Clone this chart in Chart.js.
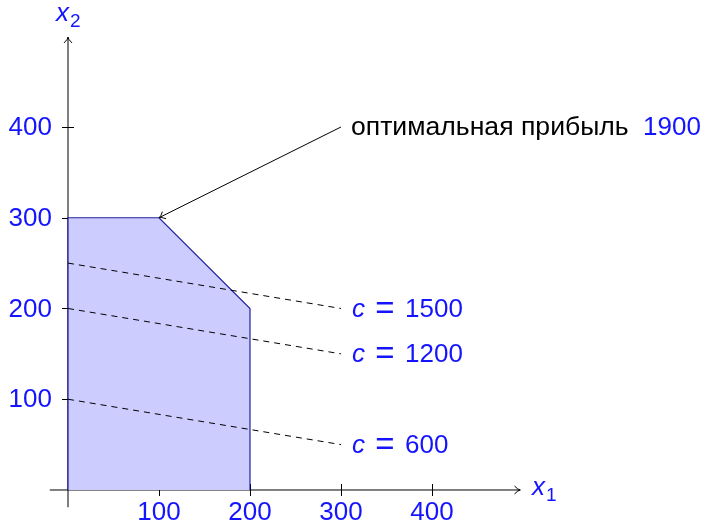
<!DOCTYPE html>
<html>
<head>
<meta charset="utf-8">
<script src="https://cdn.jsdelivr.net/npm/chart.js@4.4.0/dist/chart.umd.min.js"></script>
<style>
  html, body { margin: 0; padding: 0; background: #fff; }
  #wrap { width: 702px; height: 527px; }
</style>
</head>
<body>
<div id="wrap"><canvas id="lp"></canvas></div>
<script>
// feasible region corners (x1, x2)
const regionX = [0, 0, 100, 200, 200];
const regionY = [0, 300, 300, 200, 0];

// iso-profit lines c = x1 + 6*x2, drawn from x1 = 0 to x1 = 300
const profitLevels = [1500, 1200, 600];
const profitLabels = ["1500", "1200", "600"];
const lineX = [0, 300];

// optimum and annotation anchor
const optimum = { x: 100, y: 300 };
const noteAt = { x: 300, y: 400 };
const noteText = "оптимальная прибыль";
const noteValue = "1900";

// axes
const xTicks = [100, 200, 300, 400];
const yTicks = [100, 200, 300, 400];
const xAxisRange = [-20, 497];
const yAxisRange = [-19, 499];

const BLUE = "#1414ff";
const FONT = '"Liberation Sans", Arial, sans-serif';

function pts(xs, ys) {
  return xs.map((x, i) => ({ x: x, y: ys[i] }));
}

function levelLine(c) {
  return lineX.map(x => ({ x: x, y: (c - x) / 6 }));
}

// chart.js paints the first dataset last, so: dashed lines, arrow, region, axes
let datasets = [];

profitLevels.forEach(c => {
  datasets.push({
    data: levelLine(c),
    borderColor: "#000",
    borderWidth: 1,
    borderDash: [6, 5],
    fill: false
  });
});

datasets.push({
  data: [noteAt, optimum],
  borderColor: "#000",
  borderWidth: 1,
  fill: false
});

datasets.push({
  data: pts(regionX, regionY),
  borderColor: "rgba(0,0,140,0.85)",
  borderWidth: 1.2,
  backgroundColor: "#ccccff",
  fill: "origin"
});

datasets.push({
  data: [{ x: xAxisRange[0], y: 0 }, { x: xAxisRange[1], y: 0 }],
  borderColor: "#000",
  borderWidth: 1,
  fill: false
});
datasets.push({
  data: [{ x: 0, y: yAxisRange[0] }, { x: 0, y: yAxisRange[1] }],
  borderColor: "#000",
  borderWidth: 1,
  fill: false
});

function arrowHead(ctx, x, y, ang) {
  const len = 7, spread = 0.6;
  ctx.beginPath();
  ctx.moveTo(x - len * Math.cos(ang - spread), y - len * Math.sin(ang - spread));
  ctx.quadraticCurveTo(x - 2 * Math.cos(ang), y - 2 * Math.sin(ang), x, y);
  ctx.quadraticCurveTo(x - 2 * Math.cos(ang), y - 2 * Math.sin(ang),
    x - len * Math.cos(ang + spread), y - len * Math.sin(ang + spread));
  ctx.stroke();
}

const axesPlugin = {
  id: "axesPlugin",
  beforeDatasetsDraw(chart) {
    const ctx = chart.ctx;
    const sx = chart.scales.x, sy = chart.scales.y;
    const x0 = sx.getPixelForValue(0), y0 = sy.getPixelForValue(0);
    ctx.save();
    ctx.strokeStyle = "#000";
    ctx.lineWidth = 1;
    xTicks.forEach(v => {
      const px = Math.round(sx.getPixelForValue(v)) + 0.5;
      ctx.beginPath();
      ctx.moveTo(px, y0 - 6);
      ctx.lineTo(px, y0 + 6);
      ctx.stroke();
    });
    yTicks.forEach(v => {
      const py = Math.round(sy.getPixelForValue(v)) + 0.5;
      ctx.beginPath();
      ctx.moveTo(x0 - 6, py);
      ctx.lineTo(x0 + 6, py);
      ctx.stroke();
    });
    ctx.restore();
  },
  afterDatasetsDraw(chart) {
    const ctx = chart.ctx;
    const sx = chart.scales.x, sy = chart.scales.y;
    const x0 = sx.getPixelForValue(0), y0 = sy.getPixelForValue(0);
    ctx.save();
    ctx.strokeStyle = "#000";
    ctx.lineWidth = 1;

    // axis arrow heads
    arrowHead(ctx, sx.getPixelForValue(xAxisRange[1]), y0, 0);
    arrowHead(ctx, x0, sy.getPixelForValue(yAxisRange[1]), -Math.PI / 2);

    // arrow to the optimum
    const ax = sx.getPixelForValue(noteAt.x), ay = sy.getPixelForValue(noteAt.y);
    const ox = sx.getPixelForValue(optimum.x), oy = sy.getPixelForValue(optimum.y);
    arrowHead(ctx, ox, oy, Math.atan2(oy - ay, ox - ax));

    // tick labels
    ctx.fillStyle = BLUE;
    ctx.font = "26px " + FONT;
    ctx.textBaseline = "middle";
    ctx.textAlign = "center";
    xTicks.forEach(v => ctx.fillText(String(v), sx.getPixelForValue(v), y0 + 23));
    ctx.textAlign = "right";
    yTicks.forEach(v => ctx.fillText(String(v), x0 - 16, sy.getPixelForValue(v) + 1));

    // axis names
    ctx.textAlign = "left";
    ctx.font = "italic 26px " + FONT;
    ctx.fillText("x", 532, y0 - 2);
    ctx.font = "19px " + FONT;
    ctx.fillText("1", 546, y0 + 6);
    ctx.font = "italic 26px " + FONT;
    ctx.fillText("x", x0 - 12, 14);
    ctx.font = "19px " + FONT;
    ctx.fillText("2", x0 + 2, 22);

    // level labels
    profitLevels.forEach((c, i) => {
      const end = levelLine(c)[1];
      const px = sx.getPixelForValue(end.x) + 11;
      const py = sy.getPixelForValue(end.y) + 1;
      ctx.textAlign = "left";
      ctx.font = "italic 26px " + FONT;
      ctx.fillText("c", px, py);
      ctx.textAlign = "center";
      ctx.font = "33px " + FONT;
      ctx.fillText("=", px + 33, py);
      ctx.textAlign = "left";
      ctx.font = "26px " + FONT;
      ctx.fillText(profitLabels[i], px + 53, py);
    });

    // annotation text
    ctx.textAlign = "left";
    ctx.font = "26.6px " + FONT;
    ctx.fillStyle = "#000";
    const tx = ax + 10, ty = ay + 1;
    ctx.fillText(noteText, tx, ty);
    ctx.fillStyle = BLUE;
    ctx.font = "26px " + FONT;
    ctx.fillText(noteValue, tx + 292, ty);
    ctx.restore();
  }
};

new Chart(document.getElementById("lp"), {
  type: "line",
  data: { datasets: datasets },
  options: {
    responsive: true,
    maintainAspectRatio: false,
    animation: false,
    layout: { padding: 0 },
    elements: { point: { radius: 0, hoverRadius: 0 }, line: { tension: 0 } },
    plugins: { legend: { display: false }, tooltip: { enabled: false } },
    scales: {
      x: { type: "linear", display: false, min: -74.73, max: 696.7 },
      y: { type: "linear", display: false, min: -40.77, max: 539.9 }
    }
  },
  plugins: [axesPlugin]
});
</script>
</body>
</html>
